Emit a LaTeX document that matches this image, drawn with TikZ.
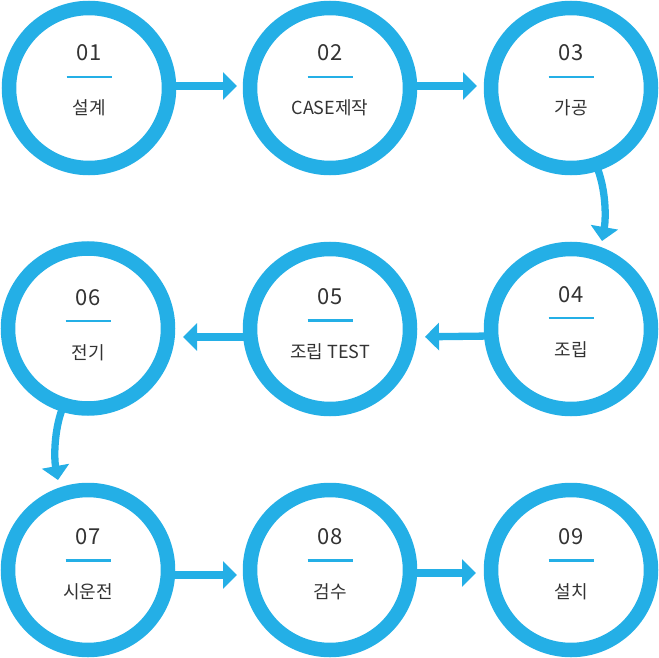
\documentclass[tikz,border=0pt]{standalone}
\usepackage{fontspec}
\setmainfont{Noto Sans CJK KR}
\usetikzlibrary{arrows.meta,calc}
\definecolor{ringblue}{RGB}{36,175,230}
\definecolor{txtgray}{RGB}{51,51,51}
\newcommand\stepnode[6]{%
  \node[ring] (#1) at (#2,#3) {};
  \node[num] (#1n) at ([shift={(0,-27+#4)}]#1.center) {#5};
  \draw[uline] ([shift={(-22.5,-11+#4)}]#1.center) -- ([shift={(22.5,-11+#4)}]#1.center);
  \node[lab] (#1l) at ([shift={(0,27+#4)}]#1.center) {#6};
}
\begin{document}
\begin{tikzpicture}[x=1pt,y=-1pt,
  ring/.style={circle,draw=ringblue,fill=white,line width=14.5pt,minimum size=160pt,inner sep=0pt,outer sep=0pt},
  num/.style={anchor=base,font=\fontsize{22}{22}\selectfont,text=txtgray,inner sep=0pt},
  lab/.style={anchor=base,font=\fontsize{18}{18}\selectfont,text=txtgray,inner sep=0pt},
  uline/.style={draw=ringblue,line width=2.2pt},
  arr/.style={draw=ringblue,line width=7.3pt,-{Triangle[length=14pt,width=27pt]}},
]
\useasboundingbox (0,0) rectangle (659,658);
\stepnode{c1}{89}{88}{0}{01}{설계}
\stepnode{c2}{330}{88}{0}{02}{CASE제작}
\stepnode{c3}{571}{88}{0}{03}{가공}
\stepnode{c4}{571}{329}{0}{04}{조립}
\stepnode{c5}{330}{329}{2.5}{05}{조립 TEST}
\stepnode{c6}{88}{328.5}{3.5}{06}{전기}
\stepnode{c7}{88}{570}{1.5}{07}{시운전}
\stepnode{c8}{330}{570}{1.5}{08}{검수}
\stepnode{c9}{571}{570}{1.5}{09}{설치}
% row 1
\draw[arr,shorten >=13pt] ([yshift=2pt]c1.east) -- ([yshift=2pt]c2.west);
\draw[arr,shorten >=14pt] ([yshift=2pt]c2.east) -- ([yshift=2pt]c3.west);
% 3 -> 4
\draw[arr] ([shift={(27,82)}]c3.center) .. controls +(8,22) and +(4,-23) .. ([shift={(31,-88)}]c4.center);
% row 2
\draw[arr,shorten >=15pt] ([yshift=-7pt]c4.west) -- ([yshift=-8pt]c5.east);
\draw[arr,shorten >=15pt] ([yshift=-8pt]c5.west) -- ([yshift=-8.5pt]c6.east);
% 6 -> 7
\draw[arr] ([shift={(-26,81)}]c6.center) .. controls +(-8,22) and +(-4,-22) .. ([shift={(-30,-90)}]c7.center);
% row 3
\draw[arr,shorten >=13pt] ([yshift=-5pt]c7.east) -- ([yshift=-5pt]c8.west);
\draw[arr,shorten >=15pt] ([yshift=-3pt]c8.east) -- ([yshift=-3pt]c9.west);
\end{tikzpicture}
\end{document}
